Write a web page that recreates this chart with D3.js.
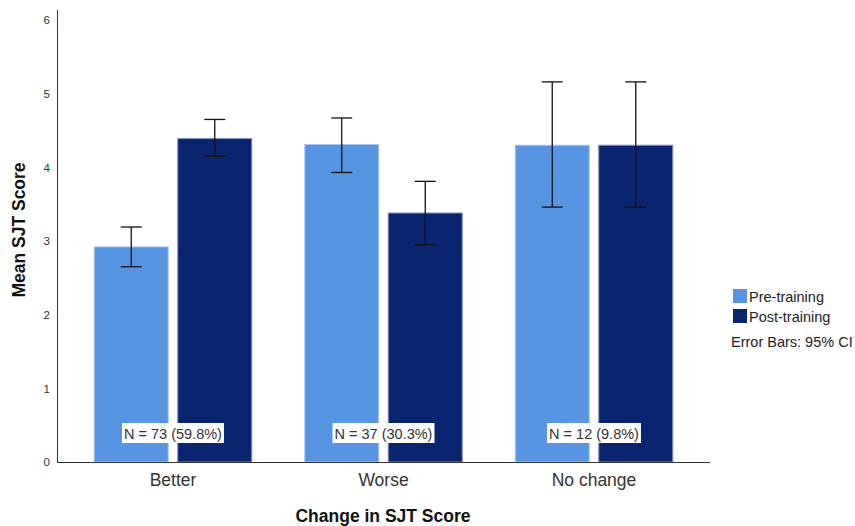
<!DOCTYPE html>
<html>
<head>
<meta charset="utf-8">
<script src="https://cdn.jsdelivr.net/npm/d3@7"></script>
<style>
  html, body { margin: 0; padding: 0; background: #fff; }
  svg { display: block; font-family: "Liberation Sans", Arial, sans-serif; }
</style>
</head>
<body>
<svg id="chart" width="855" height="526"></svg>
<script>
// Mean SJT score by change group, before and after training, with 95% CIs
const categories = ["Better", "Worse", "No change"];
const seriesNames = ["Pre-training", "Post-training"];
const preMeans = [2.92, 4.31, 4.30];
const preLower = [2.65, 3.93, 3.46];
const preUpper = [3.19, 4.67, 5.16];
const postMeans = [4.39, 3.38, 4.30];
const postLower = [4.15, 2.95, 3.46];
const postUpper = [4.65, 3.81, 5.16];
const groupLabels = ["N = 73 (59.8%)", "N = 37 (30.3%)", "N = 12 (9.8%)"];
const yTicks = [0, 1, 2, 3, 4, 5, 6];
const colors = ["#5795e3", "#0a2570"];
const strokeColors = ["#a9c6ef", "#7f8fbd"];

const rows = categories.map((c, i) => ({
  category: c,
  label: groupLabels[i],
  values: [
    { series: seriesNames[0], mean: preMeans[i], lo: preLower[i], hi: preUpper[i], k: 0 },
    { series: seriesNames[1], mean: postMeans[i], lo: postLower[i], hi: postUpper[i], k: 1 }
  ]
}));

const svg = d3.select("#chart");
const plotLeft = 57, plotRight = 710, plotBottom = 462, plotTop = 10;

const y = d3.scaleLinear().domain([0, 6]).range([plotBottom, 20]);
const x0 = d3.scaleBand().domain(categories).range([plotLeft, plotRight])
  .paddingInner(0.247).paddingOuter(0.1745);
const x1 = d3.scaleBand().domain(seriesNames).range([0, x0.bandwidth()])
  .paddingInner(0.102).paddingOuter(0);

// Y axis: line plus labels, no tick marks
const yAxis = svg.append("g").attr("transform", `translate(${plotLeft},0)`)
  .call(d3.axisLeft(y).tickValues(yTicks).tickSize(0).tickPadding(7).tickFormat(d3.format("d")));
yAxis.select(".domain").remove();
yAxis.selectAll("text").attr("font-size", 11.5).attr("fill", "#333")
  .attr("font-family", "Liberation Sans, Arial, sans-serif");
svg.append("line").attr("x1", plotLeft + 0.5).attr("x2", plotLeft + 0.5)
  .attr("y1", plotTop).attr("y2", plotBottom).attr("stroke", "#333").attr("stroke-width", 1);

// Bars
const groups = svg.append("g").selectAll("g").data(rows).join("g")
  .attr("transform", d => `translate(${x0(d.category)},0)`);

groups.selectAll("rect").data(d => d.values).join("rect")
  .attr("x", d => x1(d.series) + 0.5)
  .attr("y", d => y(d.mean))
  .attr("width", x1.bandwidth() - 1)
  .attr("height", d => y(0) - y(d.mean))
  .attr("fill", d => colors[d.k])
  .attr("stroke", d => strokeColors[d.k])
  .attr("stroke-width", 1);

// X axis line
svg.append("line").attr("x1", plotLeft).attr("x2", plotRight)
  .attr("y1", plotBottom + 0.5).attr("y2", plotBottom + 0.5)
  .attr("stroke", "#333").attr("stroke-width", 1);

// Error bars
const capW = 21;
const eb = groups.selectAll("g.eb").data(d => d.values).join("g").attr("class", "eb")
  .attr("stroke", "#111").attr("stroke-width", 1.3).attr("fill", "none");
eb.append("line")
  .attr("x1", d => x1(d.series) + x1.bandwidth() / 2)
  .attr("x2", d => x1(d.series) + x1.bandwidth() / 2)
  .attr("y1", d => y(d.hi)).attr("y2", d => y(d.lo));
eb.append("line")
  .attr("x1", d => x1(d.series) + x1.bandwidth() / 2 - capW / 2)
  .attr("x2", d => x1(d.series) + x1.bandwidth() / 2 + capW / 2)
  .attr("y1", d => y(d.hi)).attr("y2", d => y(d.hi));
eb.append("line")
  .attr("x1", d => x1(d.series) + x1.bandwidth() / 2 - capW / 2)
  .attr("x2", d => x1(d.series) + x1.bandwidth() / 2 + capW / 2)
  .attr("y1", d => y(d.lo)).attr("y2", d => y(d.lo));

// Group count labels in white boxes
groups.each(function(d) {
  const g = d3.select(this);
  const cx = x0.bandwidth() / 2;
  const t = g.append("text").attr("x", cx).attr("y", 438.5)
    .attr("text-anchor", "middle").attr("font-size", 14.5).attr("fill", "#333")
    .text(d.label);
  const bb = t.node().getBBox();
  g.insert("rect", "text").attr("x", bb.x - 2).attr("y", 423)
    .attr("width", bb.width + 4).attr("height", 20).attr("fill", "#fff");
});

// X category labels
svg.append("g").selectAll("text").data(categories).join("text")
  .attr("x", d => x0(d) + x0.bandwidth() / 2).attr("y", 486)
  .attr("text-anchor", "middle").attr("font-size", 17.5).attr("fill", "#333")
  .text(d => d);

// Axis titles
svg.append("text").attr("x", 383).attr("y", 522).attr("text-anchor", "middle")
  .attr("font-size", 17.5).attr("font-weight", "bold").attr("fill", "#111")
  .text("Change in SJT Score");
svg.append("text").attr("transform", "translate(25,230) rotate(-90)")
  .attr("text-anchor", "middle").attr("font-size", 17.5).attr("font-weight", "bold")
  .attr("fill", "#111").text("Mean SJT Score");

// Legend
const legend = svg.append("g").attr("transform", "translate(733,289)");
seriesNames.forEach((s, i) => {
  legend.append("rect").attr("x", 0).attr("y", i * 20).attr("width", 14).attr("height", 14)
    .attr("fill", colors[i]);
  legend.append("text").attr("x", 16).attr("y", i * 20 + 12.5).attr("font-size", 14.5)
    .attr("fill", "#222").text(s);
});
svg.append("text").attr("x", 731).attr("y", 347).attr("font-size", 14.5).attr("fill", "#222")
  .text("Error Bars: 95% CI");
</script>
</body>
</html>
